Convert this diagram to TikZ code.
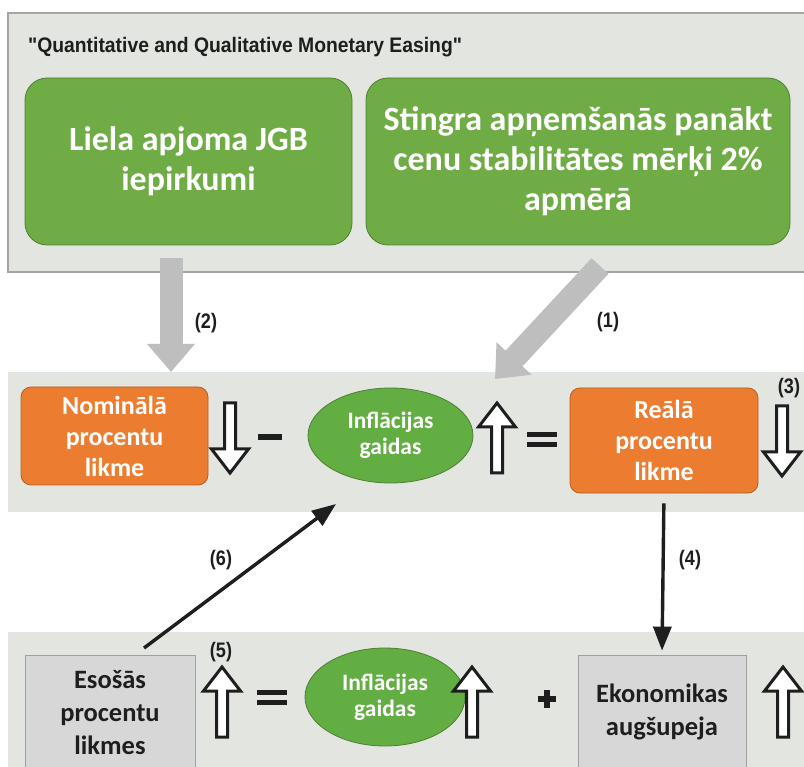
\documentclass[tikz,border=0pt]{standalone}
\usepackage{fontspec}
\setmainfont{Carlito}
\newfontfamily\narrowfont{Liberation Sans}
\usetikzlibrary{arrows.meta,shapes.geometric}

\definecolor{panelfill}{HTML}{E3E5E0}
\definecolor{panelline}{HTML}{A4A6A2}
\definecolor{boxgreen}{HTML}{6FAC46}
\definecolor{greenline}{HTML}{4F7F30}
\definecolor{ellgreen}{HTML}{62AE43}
\definecolor{boxorange}{HTML}{EC7C30}
\definecolor{orangeline}{HTML}{B45E24}
\definecolor{boxgray}{HTML}{D7D7D7}
\definecolor{grayline}{HTML}{A0A0A0}
\definecolor{arrowgray}{HTML}{BEBEBE}
\definecolor{inkdark}{HTML}{1E1E1E}

\newcommand{\narrowlabel}[2][0.86]{{\narrowfont\bfseries\scalebox{#1}[1]{#2}}}

\tikzset{
  panel/.style={fill=panelfill, draw=panelline, line width=1.2pt},
  greenbox/.style={fill=boxgreen, draw=greenline, line width=0.8pt, rounded corners=22pt,
    text=white, font=\fontsize{34}{40}\selectfont\bfseries, align=center},
  orangebox/.style={fill=boxorange, draw=orangeline, line width=0.8pt, rounded corners=10pt,
    text=white, font=\fontsize{26}{31}\selectfont\bfseries, align=center},
  graybox/.style={fill=boxgray, draw=grayline, line width=0.8pt,
    text=inkdark, font=\fontsize{26.5}{33}\selectfont\bfseries, align=center},
  expect/.style={ellipse, fill=ellgreen, draw=greenline, line width=0.8pt, inner sep=0pt,
    text=white, font=\fontsize{23.5}{26}\selectfont\bfseries, align=center},
  opsign/.style={fill=inkdark},
  steplabel/.style={font=\fontsize{21}{21}\selectfont, text=inkdark, inner sep=0pt},
  bigarrow/.style={draw=arrowgray, line width=23pt, -{Triangle[width=46pt,length=28pt]}},
  blackarrow/.style={draw=inkdark, line width=3.4pt, -{Triangle[width=18pt,length=24pt]}},
  uparr/.pic={\draw[draw=inkdark, line width=3pt, fill=white, line join=miter]
      (0,-35) -- (18.5,-11) -- (5.5,-11) -- (5.5,35) -- (-5.5,35) -- (-5.5,-11) -- (-18.5,-11) -- cycle;},
  downarr/.pic={\draw[draw=inkdark, line width=3pt, fill=white, line join=miter]
      (0,35) -- (18.5,11) -- (5.5,11) -- (5.5,-35) -- (-5.5,-35) -- (-5.5,11) -- (-18.5,11) -- cycle;},
  minuspic/.pic={\fill[opsign] (-12,-2.6) rectangle (12,2.6);},
  equalspic/.pic={\fill[opsign] (-15,-7.5) rectangle (15,-2.5);
                  \fill[opsign] (-15,2.5) rectangle (15,7.5);},
  pluspic/.pic={\fill[opsign] (-9,-2.6) rectangle (9,2.6);
                \fill[opsign] (-2.6,-9) rectangle (2.6,9);},
}

\begin{document}
\begin{tikzpicture}[x=1pt, y=-1pt]
  \useasboundingbox (0,0) rectangle (804,767);
  \fill[white] (0,0) rectangle (804,767);

  % three shaded bands
  \draw[panel] (8,13) rectangle (812,272);
  \fill[panelfill] (8,372) rectangle (812,512);
  \fill[panelfill] (8,632) rectangle (812,775);

  % policy band
  \node[anchor=west, inner sep=0pt, font=\fontsize{21}{21}\selectfont, text=inkdark] (title) at (28,47)
    {\narrowlabel[0.92]{"Quantitative and Qualitative Monetary Easing"}};
  \node[greenbox, minimum width=327pt, minimum height=167pt] (jgb) at (188.5,161.5)
    {Liela apjoma JGB\\iepirkumi};
  \node[greenbox, minimum width=424pt, minimum height=167pt] (commit) at (578,161.5)
    {Stingra apņemšanās panākt\\cenu stabilitātes mērķi 2\%\\apmērā};

  % middle band: real rate equation
  \node[orangebox, minimum width=187pt, minimum height=98pt] (nominal) at (114.5,436)
    {Nominālā\\procentu\\likme};
  \pic at (230,438) {downarr};
  \pic at (270,437) {minuspic};
  \node[expect, minimum width=165pt, minimum height=95pt] (infl1) at (390.5,435.5)
    {Inflācijas\\gaidas};
  \pic at (497,438) {uparr};
  \pic at (542,439.5) {equalspic};
  \node[orangebox, minimum width=188pt, minimum height=105pt] (real) at (664,440.5)
    {Reālā\\procentu\\likme};
  \pic at (782,441) {downarr};
  \node[steplabel] (l3) at (789,388) {\narrowlabel{(3)}};

  % bottom band: observed rate equation
  \node[graybox, minimum width=170pt, minimum height=116pt] (current) at (110,713)
    {Esošās\\procentu\\likmes};
  \node[steplabel] (l5) at (221,652) {\narrowlabel{(5)}};
  \pic at (222,702) {uparr};
  \node[expect, minimum width=160pt, minimum height=98pt] (infl2) at (385,697)
    {Inflācijas\\gaidas};
  \pic at (272,697.5) {equalspic};
  \pic at (472,702) {uparr};
  \pic at (547,699) {pluspic};
  \node[graybox, minimum width=168pt, minimum height=114pt] (growth) at (662,712)
    {Ekonomikas\\augšupeja};
  \pic at (783,702) {uparr};

  % transmission channels
  \coordinate (s2) at (171,258);
  \coordinate (e2) at (171,372);
  \coordinate (s1) at (600,266);
  \coordinate (e1) at (495,379);
  \draw[bigarrow] (s2) -- (e2);
  \draw[bigarrow] (s1) -- (e1);
  \node[steplabel] (l2) at (206,323) {\narrowlabel{(2)}};
  \node[steplabel] (l1) at (608,322) {\narrowlabel{(1)}};

  \coordinate (s6) at (144,648);
  \coordinate (e6) at (336,504);
  \draw[blackarrow] (s6) -- (e6);
  \draw[blackarrow, shorten <=10pt, shorten >=4pt] (real.south) -- (growth.north);
  \node[steplabel] (l6) at (221,560) {\narrowlabel{(6)}};
  \node[steplabel] (l4) at (690,560) {\narrowlabel{(4)}};
\end{tikzpicture}
\end{document}
